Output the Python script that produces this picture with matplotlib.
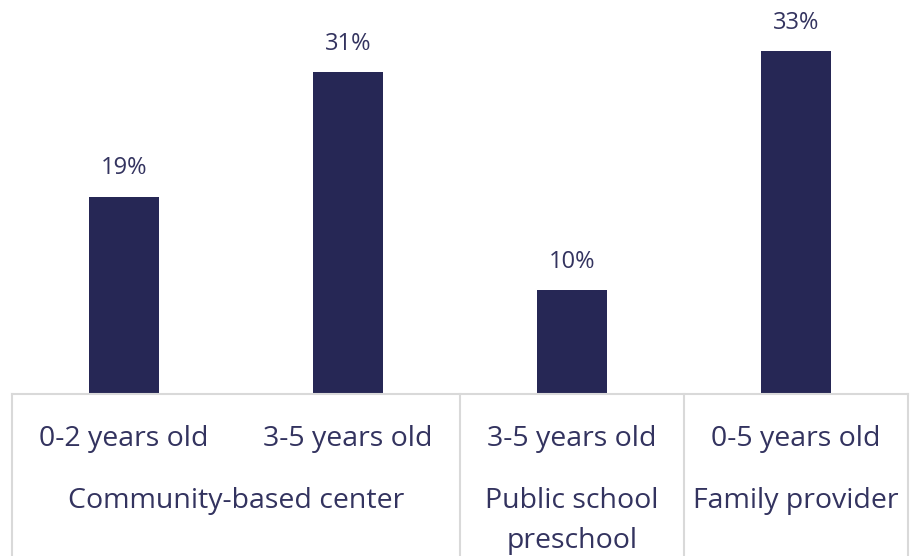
import matplotlib.pyplot as plt
import matplotlib.transforms as mtransforms

plt.rcParams['font.family'] = ['Open Sans', 'DejaVu Sans']

ages = ['0-2 years old', '3-5 years old', '3-5 years old', '0-5 years old']
values = [19, 31, 10, 33]
groups = ['Community-based center', 'Public school\npreschool', 'Family provider']
group_spans = [(0, 1), (2, 2), (3, 3)]

bar_color = '#262755'
text_color = '#33335f'
line_color = '#d9d9d9'

fig = plt.figure(figsize=(9.11, 5.56), dpi=100)
W, H = 911, 556
ax = fig.add_axes([12 / W, (H - 394) / H, 896 / W, 394 / H])
ax.set_xlim(-0.5, len(values) - 0.5)
ax.set_ylim(0, 394 / 10.38)
ax.axis('off')

x = list(range(len(values)))
ax.bar(x, values, width=0.31, color=bar_color)
for xi, v in zip(x, values):
    ax.annotate(f'{v}%', (xi, v), xytext=(0, 12), textcoords='offset points',
                ha='center', va='bottom', fontsize=17, color=text_color)

# table below the bars
trans = mtransforms.blended_transform_factory(ax.transData, ax.transAxes)
bottom = -162 / 394
ax.plot([-0.5, 3.5], [0, 0], transform=trans, color=line_color, lw=1.5, clip_on=False)
for xv in [-0.5, 1.5, 2.5, 3.5]:
    ax.plot([xv, xv], [0, bottom], transform=trans, color=line_color, lw=1.5, clip_on=False)

for xi, a in zip(x, ages):
    ax.text(xi, -45 / 394, a, transform=trans, ha='center', va='center',
            fontsize=20.5, color=text_color)
for g, (a, b) in zip(groups, group_spans):
    ax.text((a + b) / 2, -93 / 394, g, transform=trans, ha='center', va='top',
            fontsize=20.5, color=text_color, linespacing=1.55)

fig.savefig('out.png', dpi=100)
